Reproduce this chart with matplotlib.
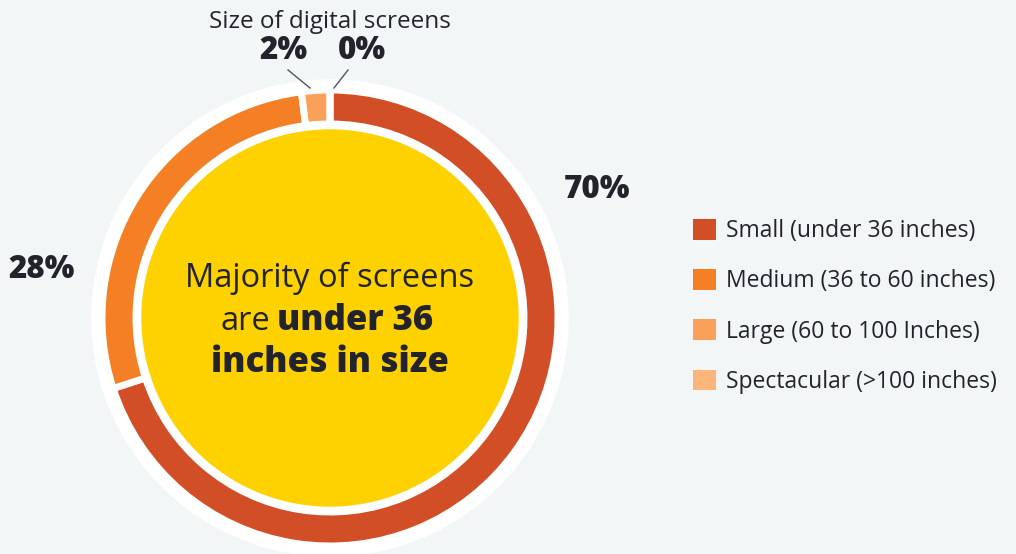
import matplotlib.pyplot as plt
from matplotlib.patches import Circle, Patch

plt.rcParams['font.family'] = ['Open Sans', 'DejaVu Sans']

# data
categories = ["Small (under 36 inches)", "Medium (36 to 60 inches)",
              "Large (60 to 100 Inches)", "Spectacular (>100 inches)"]
shares = [70, 28, 2, 0]
colors = ["#D24E26", "#F47F24", "#F9A05A", "#FBB57A"]
title = "Size of digital screens"

bg = "#F3F6F7"
txt = "#23232C"

fig = plt.figure(figsize=(10.16, 5.54), dpi=100, facecolor=bg)
ax = fig.add_axes([0, 0, 1, 1])
ax.set_facecolor(bg)

cx, cy = 330, 236
r_out = 228

# white backing ring, then the donut, then the yellow centre
ax.add_patch(Circle((cx, cy), 238, color="white", zorder=1))
wedges, _ = ax.pie(shares, colors=colors, startangle=90, counterclock=False,
                   radius=r_out, center=(cx, cy),
                   wedgeprops=dict(width=34, edgecolor="white", linewidth=5))
for w in wedges:
    w.set_zorder(2)
ax.add_patch(Circle((cx, cy), 188, color="#FDD200", zorder=3))

# centre message
ax.text(cx, 276, "Majority of screens", ha="center", va="center",
        fontsize=23.5, color=txt, zorder=4)
ax.text(270, 233, "are", ha="right", va="center", fontsize=23.5, color=txt, zorder=4)
ax.text(277, 233, "under 36", ha="left", va="center", fontsize=25,
        fontweight="heavy", color=txt, zorder=4)
ax.text(cx, 191, "inches in size", ha="center", va="center", fontsize=25,
        fontweight="heavy", color=txt, zorder=4)

# title and percentage labels
ax.text(cx, 532, title, ha="center", va="center", fontsize=17.5, color=txt)
label_pos = [(597, 364), (42, 284), (283, 503), (362, 503)]
for (x, y), s in zip(label_pos, shares):
    ax.text(x, y, f"{s}%", ha="center", va="center", fontsize=22.5,
            fontweight="heavy", color=txt)

# leader lines for the tiny slices
ax.plot([288, 310], [484, 466], color="#4A5664", lw=1)
ax.plot([348, 334], [484, 466], color="#4A5664", lw=1)

handles = [Patch(facecolor=c, edgecolor="none") for c in colors]
leg = ax.legend(handles, categories, loc="upper left",
                bbox_to_anchor=(693 / 1016, 1 - 219 / 554), frameon=False,
                fontsize=16.5, handlelength=1.0, handleheight=1.0,
                labelspacing=1.14, handletextpad=0.45, borderpad=0,
                borderaxespad=0)
for t in leg.get_texts():
    t.set_color(txt)

ax.set_xlim(0, 1016)
ax.set_ylim(0, 554)
ax.set_aspect("equal")
ax.axis("off")

fig.savefig("out.png", dpi=100, facecolor=bg)
